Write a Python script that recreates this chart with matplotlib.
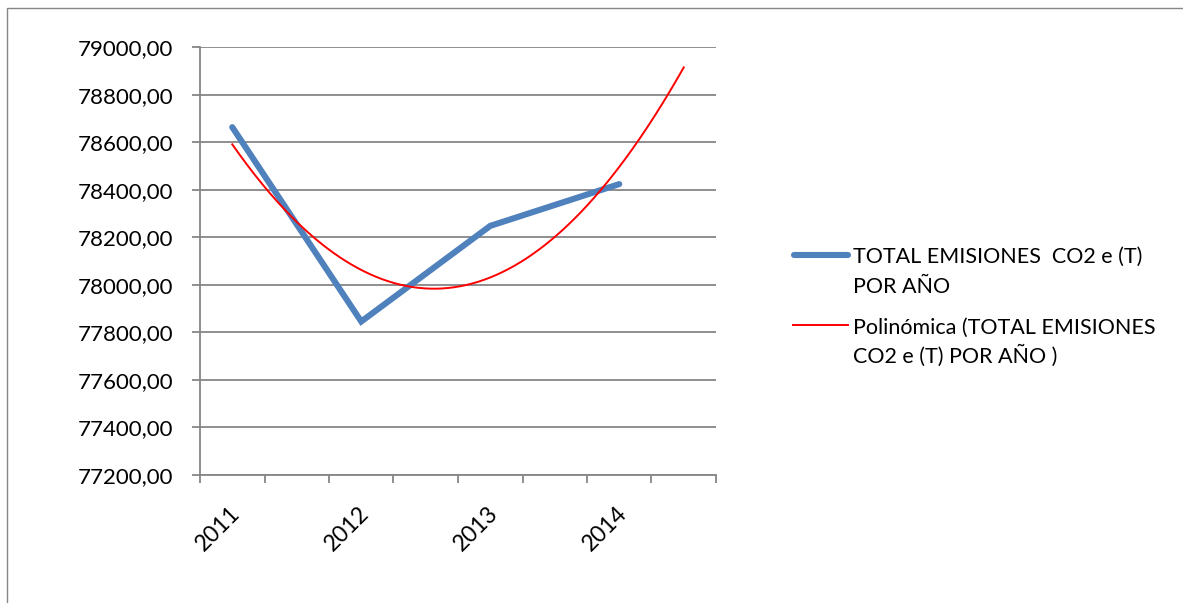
import numpy as np
import matplotlib
matplotlib.use("Agg")
import matplotlib.pyplot as plt
from matplotlib.lines import Line2D
from matplotlib.patches import Rectangle
from matplotlib.transforms import ScaledTranslation

# ---- data ----
years = ['2011', '2012', '2013', '2014']
emisiones = [78664, 77845, 78248, 78424]
serie_label = ['TOTAL EMISIONES  CO2 e (T)', 'POR AÑO']
trend_label = ['Polinómica (TOTAL EMISIONES', 'CO2 e (T) POR AÑO )']
y_ticks = [77200, 77400, 77600, 77800, 78000, 78200, 78400, 78600, 78800, 79000]

plt.rcParams['font.family'] = ['Lato', 'DejaVu Sans']
W, H = 1183, 603
fig = plt.figure(figsize=(W / 100, H / 100), dpi=100)
fig.patch.set_facecolor('white')

def fx(px):
    return px / W

def fy(py):
    return 1 - py / H

ax = fig.add_axes([fx(200), fy(474.6), fx(716) - fx(200), fy(47.4) - fy(474.6)])

grey = '#868686'
blue = '#4F81BD'

# category slots: 8 slots, data in slots 1,3,5,7 (centers at 0.5, 2.5, 4.5, 6.5)
t = np.arange(1, len(years) + 1)
xpos = 2 * t - 1.5
ax.plot(xpos, emisiones, color=blue, lw=4.4, solid_capstyle='round',
        solid_joinstyle='miter', zorder=3)

coef = np.polyfit(t, emisiones, 2)
tt = np.linspace(1, 4.5, 300)
ax.plot(2 * tt - 1.5, np.polyval(coef, tt), color='#FF0000', lw=1.4, zorder=4)

ax.set_xlim(0, 8)
ax.set_ylim(77200, 79000)
ax.set_yticks(y_ticks)
ax.set_yticklabels([f"{v:.2f}".replace('.', ',') for v in y_ticks])
ax.grid(axis='y', color=grey, lw=1.3)
ax.set_axisbelow(True)

ax.set_xticks(np.arange(0, 9), minor=True)
ax.set_xticks(xpos)
ax.set_xticklabels(years, rotation=45, ha='right', va='top', rotation_mode='anchor')
ax.tick_params(axis='x', which='major', length=0, pad=20, labelsize=16.5)
ax.tick_params(axis='x', which='minor', length=6, width=1.3, color=grey, direction='out')
ax.tick_params(axis='y', length=6, width=1.3, color=grey, direction='out', pad=13, labelsize=16)
off = ScaledTranslation(-3 / 100, 0, fig.dpi_scale_trans)
for lab in ax.get_xticklabels():
    lab.set_transform(lab.get_transform() + off)

for s in ['top', 'right']:
    ax.spines[s].set_visible(False)
for s in ['left', 'bottom']:
    ax.spines[s].set_color(grey)
    ax.spines[s].set_linewidth(1.3)

# outer chart border
fig.patches.append(Rectangle((fx(7), -0.2), 1.2, fy(8) + 0.2, transform=fig.transFigure,
                             fill=False, edgecolor=grey, lw=1.0))

# legend (manual placement)
fig.add_artist(Line2D([fx(794), fx(848)], [fy(255), fy(255)], color=blue, lw=4.4,
                      solid_capstyle='round', transform=fig.transFigure))
fig.add_artist(Line2D([fx(793), fx(848)], [fy(324.5), fy(324.5)], color='#FF0000', lw=1.4,
                      transform=fig.transFigure))
for txt, by in zip(serie_label, [263, 293]):
    fig.text(fx(853), fy(by), txt, fontsize=15.5, va='baseline', ha='left')
for txt, by in zip(trend_label, [334, 363]):
    fig.text(fx(853), fy(by), txt, fontsize=15.5, va='baseline', ha='left')

fig.savefig('out.png', dpi=100, facecolor='white')
